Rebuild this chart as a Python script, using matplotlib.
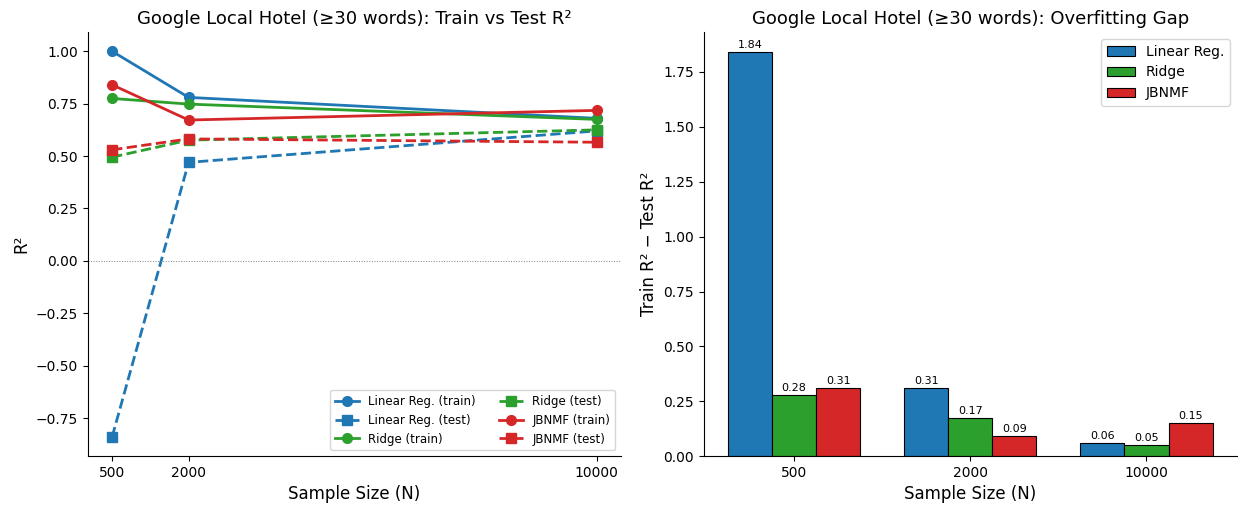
import matplotlib.pyplot as plt
import numpy as np

sizes = [500, 2000, 10000]
models = ['Linear Reg.', 'Ridge', 'JBNMF']
colors = ['#1f77b4', '#2ca02c', '#d62728']

train_r2 = {
    'Linear Reg.': [1.00, 0.78, 0.68],
    'Ridge': [0.775, 0.748, 0.675],
    'JBNMF': [0.84, 0.672, 0.718],
}
test_r2 = {
    'Linear Reg.': [-0.84, 0.47, 0.62],
    'Ridge': [0.495, 0.576, 0.625],
    'JBNMF': [0.53, 0.582, 0.566],
}

fig, (ax1, ax2) = plt.subplots(1, 2, figsize=(12.38, 5.08), dpi=100)
plt.subplots_adjust(left=0.071, right=0.999, bottom=0.102, top=0.937, wspace=0.156)

# left: train vs test
for m, c in zip(models, colors):
    ax1.plot(sizes, train_r2[m], '-o', color=c, lw=2, ms=7, label=m + ' (train)')
    ax1.plot(sizes, test_r2[m], '--s', color=c, lw=2, ms=7, label=m + ' (test)')
ax1.axhline(0, color='gray', ls=':', lw=0.7)
ax1.set_xticks(sizes)
ax1.set_xlabel('Sample Size (N)', fontsize=12)
ax1.set_ylabel('R²', fontsize=12)
ax1.set_title('Google Local Hotel (≥30 words): Train vs Test R²', fontsize=13)
ax1.legend(ncol=2, fontsize=8.5, loc='lower right')
ax1.spines['top'].set_visible(False)
ax1.spines['right'].set_visible(False)

# right: overfitting gap
x = np.arange(len(sizes))
width = 0.25
for i, (m, c) in enumerate(zip(models, colors)):
    gaps = np.array(train_r2[m]) - np.array(test_r2[m])
    bars = ax2.bar(x + (i - 1) * width, gaps, width, color=c, edgecolor='black', lw=0.8, label=m)
    for b, g in zip(bars, gaps):
        ax2.text(b.get_x() + b.get_width() / 2, g + 0.01, f'{g:.2f}', ha='center', va='bottom', fontsize=8)
ax2.set_xticks(x)
ax2.set_xticklabels([str(s) for s in sizes])
ax2.set_xlabel('Sample Size (N)', fontsize=12)
ax2.set_ylabel('Train R² − Test R²', fontsize=12)
ax2.set_title('Google Local Hotel (≥30 words): Overfitting Gap', fontsize=13)
ax2.legend(fontsize=10, loc='upper right')
ax2.spines['top'].set_visible(False)
ax2.spines['right'].set_visible(False)

plt.savefig('out.png')
